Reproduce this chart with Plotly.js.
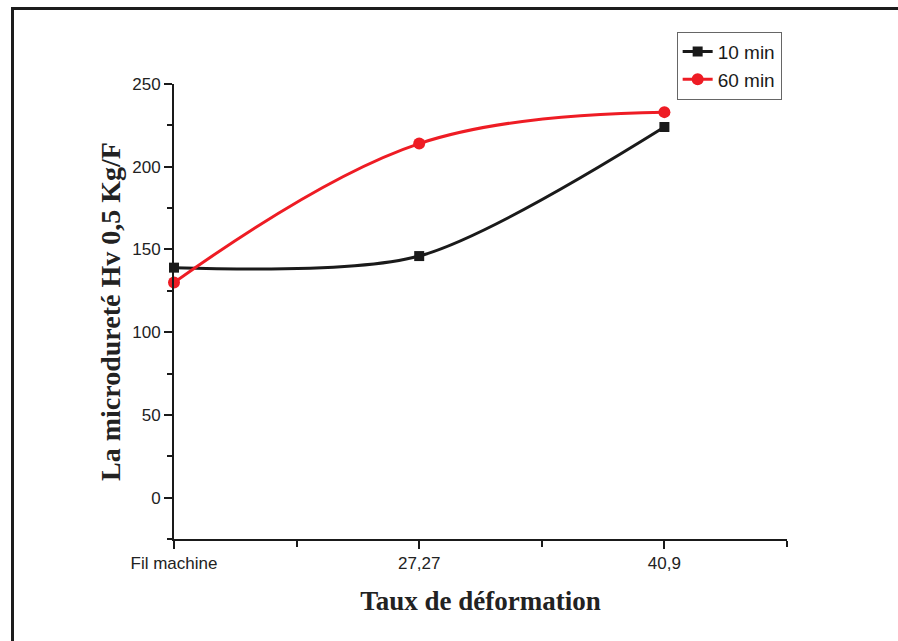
<!DOCTYPE html>
<html>
<head>
<meta charset="utf-8">
<script src="https://cdn.plot.ly/plotly-3.0.1.min.js"></script>
<style>
html,body{margin:0;padding:0;background:#fff;overflow:hidden;}
#chart{width:898px;height:641px;}
#frame{position:absolute;left:11px;top:7px;width:1000px;height:1000px;border-left:3px solid #1c1c1c;border-top:3px solid #1c1c1c;pointer-events:none;}
</style>
</head>
<body>
<div id="chart"></div>
<div id="frame"></div>
<script>
const categories = ["Fil machine", "27,27", "40,9"];
const catPos = [0, 1, 2];
const series10 = [139, 146, 224];
const series60 = [130, 214, 233];
const yTicks = [0, 50, 100, 150, 200, 250];

const traces = [
  {
    x: catPos, y: series10, name: "10 min", type: "scatter", mode: "lines+markers",
    line: {color: "#1a1a1a", width: 3, shape: "spline", smoothing: 0.8},
    marker: {symbol: "square", size: 10, color: "#1a1a1a"},
    cliponaxis: false
  },
  {
    x: catPos, y: series60, name: "60 min", type: "scatter", mode: "lines+markers",
    line: {color: "#ee1c24", width: 3, shape: "spline", smoothing: 1.1},
    marker: {symbol: "circle", size: 12, color: "#ee1c24"},
    cliponaxis: false
  }
];

const layout = {
  width: 898, height: 641,
  margin: {l: 174, r: 111, t: 84, b: 102},
  paper_bgcolor: "#fff", plot_bgcolor: "#fff",
  showlegend: true,
  legend: {
    x: 0.82, y: 1.115, xanchor: "left", yanchor: "top",
    bordercolor: "#666", borderwidth: 1, bgcolor: "#fff",
    font: {family: "Liberation Sans, Arial", size: 19, color: "#1a1a1a"},
    tracegroupgap: 0
  },
  xaxis: {
    range: [0, 2.5], showgrid: false, zeroline: false,
    showline: true, linecolor: "#1a1a1a", linewidth: 2,
    tickmode: "array", tickvals: catPos, ticktext: categories,
    ticks: "outside", ticklen: 8, tickwidth: 2, tickcolor: "#1a1a1a",
    minor: {tickmode: "array", tickvals: [0.5, 1.5, 2.5], ticks: "outside", ticklen: 6, tickwidth: 2, tickcolor: "#1a1a1a", showgrid: false},
    tickfont: {family: "Liberation Sans, Arial", size: 17, color: "#222"},
    title: {text: "Taux de déformation", standoff: 19,
      font: {family: "Liberation Serif, Times New Roman", size: 27, color: "#222", weight: "bold"}}
  },
  yaxis: {
    range: [-25, 250], showgrid: false, zeroline: false,
    showline: true, linecolor: "#1a1a1a", linewidth: 2,
    tickmode: "array", tickvals: yTicks,
    ticks: "outside", ticklen: 8, tickwidth: 2, tickcolor: "#1a1a1a",
    minor: {tickmode: "array", tickvals: [-25, 25, 75, 125, 175, 225], ticks: "outside", ticklen: 5, tickwidth: 2, tickcolor: "#1a1a1a", showgrid: false},
    tickfont: {family: "Liberation Sans, Arial", size: 17, color: "#222"},
    title: {text: "La microdureté Hv 0,5 Kg/F", standoff: 3,
      font: {family: "Liberation Serif, Times New Roman", size: 28, color: "#222", weight: "bold"}}
  }
};

Plotly.newPlot("chart", traces, layout, {displayModeBar: false, staticPlot: true});
</script>
</body>
</html>
